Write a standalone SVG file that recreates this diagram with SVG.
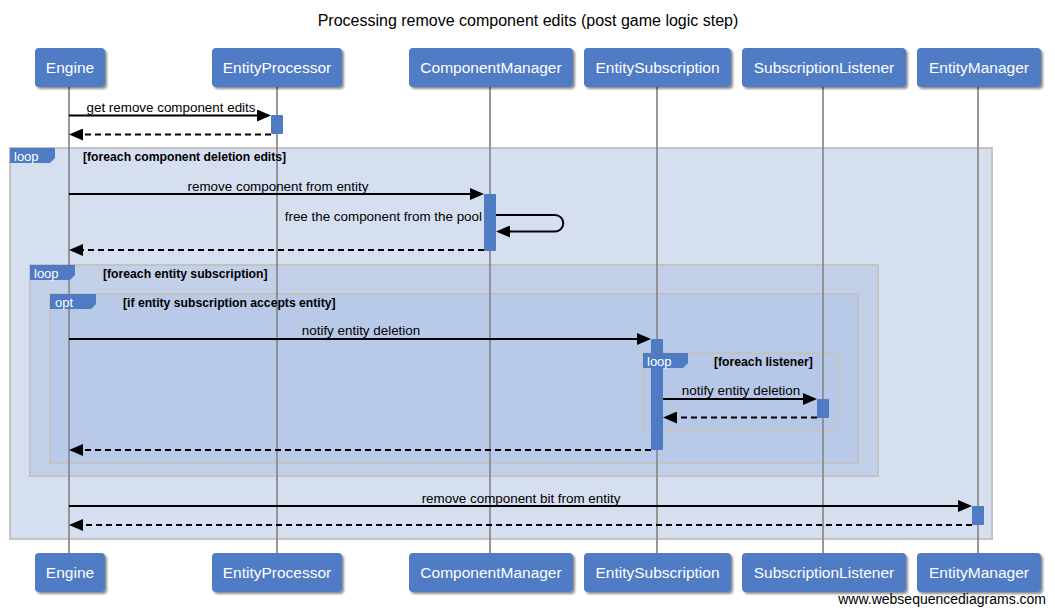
<svg xmlns="http://www.w3.org/2000/svg" width="1055" height="615" viewBox="0 0 1055 615">
<defs>
<style>
.title{font-family:"Liberation Sans",Arial,sans-serif;font-size:16px;fill:#000;text-anchor:middle}
.pbox{fill:#4f7bc5}
.ptxt{font-family:"Liberation Sans",Arial,sans-serif;font-size:15.5px;fill:#fff;text-anchor:middle}
.life{stroke:#8c8c8c;stroke-width:1.8}
.act{fill:#4f7bc5}
.msg{stroke:#000;stroke-width:2;fill:none;marker-end:url(#ah)}
.ret{stroke:#000;stroke-width:2;fill:none;stroke-dasharray:6,4;marker-end:url(#ah)}
.mtxt{font-family:"Liberation Sans",Arial,sans-serif;font-size:13.4px;fill:#000;text-anchor:middle}
.frame{stroke:#c3c3c3;stroke-width:2}
.tab{fill:#4f7bc5}
.ttxt{font-family:"Liberation Sans",Arial,sans-serif;font-size:13px;fill:#fff}
.cond{font-family:"Liberation Sans",Arial,sans-serif;font-size:12.2px;font-weight:bold;fill:#000}
.foot{font-family:"Liberation Sans",Arial,sans-serif;font-size:14px;fill:#000;text-anchor:end}
</style>
<marker id="ah" markerUnits="userSpaceOnUse" markerWidth="14" markerHeight="12" refX="10" refY="6" orient="auto">
<path d="M0,0 L14,6 L0,12 z" fill="#000"/>
</marker>
<filter id="sh" x="-10%" y="-10%" width="130%" height="140%">
<feDropShadow dx="2" dy="2" stdDeviation="1.2" flood-color="#000" flood-opacity="0.45"/>
</filter>
</defs>
<rect width="1055" height="615" fill="#fff"/>
<text class="title" x="528" y="26">Processing remove component edits (post game logic step)</text>

<g id="frames">
<rect id="frame-loop-outer" class="frame" x="10" y="148" width="982" height="391" fill="#d6dff0"/>
<rect id="frame-loop-subscription" class="frame" x="30" y="265" width="848" height="211" fill="#c3d0ea"/>
<rect id="frame-opt" class="frame" x="50" y="294" width="808" height="169" fill="#b9c9e8"/>
<rect id="frame-loop-listener" class="frame" x="643" y="353" width="195" height="77" fill="#b7c7e7"/>
</g>

<g id="lifelines">
<line class="life" x1="69" y1="87" x2="69" y2="553"/>
<line class="life" x1="277" y1="87" x2="277" y2="553"/>
<line class="life" x1="490" y1="87" x2="490" y2="553"/>
<line class="life" x1="657" y1="87" x2="657" y2="553"/>
<line class="life" x1="823" y1="87" x2="823" y2="553"/>
<line class="life" x1="978" y1="87" x2="978" y2="553"/>
</g>

<g id="Engine">
<rect class="pbox" x="35" y="48" width="70" height="39" rx="4" filter="url(#sh)"/>
<text class="ptxt" x="70" y="73">Engine</text>
<rect class="pbox" x="35" y="553" width="70" height="39" rx="4" filter="url(#sh)"/>
<text class="ptxt" x="70" y="578">Engine</text>
</g>
<g id="EntityProcessor">
<rect class="pbox" x="212" y="48" width="130" height="39" rx="4" filter="url(#sh)"/>
<text class="ptxt" x="277" y="73">EntityProcessor</text>
<rect class="pbox" x="212" y="553" width="130" height="39" rx="4" filter="url(#sh)"/>
<text class="ptxt" x="277" y="578">EntityProcessor</text>
<rect class="act" x="271" y="115" width="12" height="19" rx="1"/>
</g>
<g id="ComponentManager">
<rect class="pbox" x="409" y="48" width="164" height="39" rx="4" filter="url(#sh)"/>
<text class="ptxt" x="491" y="73">ComponentManager</text>
<rect class="pbox" x="409" y="553" width="164" height="39" rx="4" filter="url(#sh)"/>
<text class="ptxt" x="491" y="578">ComponentManager</text>
<rect class="act" x="484" y="194" width="12" height="57" rx="1"/>
</g>
<g id="EntitySubscription">
<rect class="pbox" x="584" y="48" width="147" height="39" rx="4" filter="url(#sh)"/>
<text class="ptxt" x="657.5" y="73">EntitySubscription</text>
<rect class="pbox" x="584" y="553" width="147" height="39" rx="4" filter="url(#sh)"/>
<text class="ptxt" x="657.5" y="578">EntitySubscription</text>
<rect class="act" x="651" y="339" width="12" height="111" rx="1"/>
</g>
<g id="SubscriptionListener">
<rect class="pbox" x="742" y="48" width="164" height="39" rx="4" filter="url(#sh)"/>
<text class="ptxt" x="824" y="73">SubscriptionListener</text>
<rect class="pbox" x="742" y="553" width="164" height="39" rx="4" filter="url(#sh)"/>
<text class="ptxt" x="824" y="578">SubscriptionListener</text>
<rect class="act" x="817" y="399" width="12" height="19" rx="1"/>
</g>
<g id="EntityManager">
<rect class="pbox" x="917" y="48" width="124" height="39" rx="4" filter="url(#sh)"/>
<text class="ptxt" x="979" y="73">EntityManager</text>
<rect class="pbox" x="917" y="553" width="124" height="39" rx="4" filter="url(#sh)"/>
<text class="ptxt" x="979" y="578">EntityManager</text>
<rect class="act" x="972" y="506" width="12" height="19" rx="1"/>
</g>

<g id="frame-labels">
<path class="tab" d="M10,148 H55 V158 L50,163 H10 Z"/>
<text class="ttxt" x="14" y="160.5">loop</text>
<text class="cond" x="83" y="161">[foreach component deletion edits]</text>
<path class="tab" d="M30,265 H75 V275 L70,280 H30 Z"/>
<text class="ttxt" x="34" y="277.5">loop</text>
<text class="cond" x="103" y="277.5">[foreach entity subscription]</text>
<path class="tab" d="M50,294 H96 V304 L91,309 H50 Z"/>
<text class="ttxt" x="55" y="306.5">opt</text>
<text class="cond" x="123" y="306.5">[if entity subscription accepts entity]</text>
<path class="tab" d="M643,353 H688 V363 L683,368 H643 Z"/>
<text class="ttxt" x="647" y="365.5">loop</text>
<text class="cond" x="714" y="365.5">[foreach listener]</text>
</g>

<g id="connectors">
<path class="msg" d="M69,115.5 H267"/>
<text class="mtxt" x="171" y="112">get remove component edits</text>
<path class="ret" d="M271,134.5 H73"/>

<path class="msg" d="M69,194 H480"/>
<text class="mtxt" x="278" y="191">remove component from entity</text>
<path class="msg" d="M496,215 H555 A8,8 0 0 1 555,231.5 H500"/>
<text class="mtxt" x="482" y="221" style="text-anchor:end">free the component from the pool</text>
<path class="ret" d="M484,250 H73"/>

<path class="msg" d="M69,339 H647"/>
<text class="mtxt" x="361" y="335">notify entity deletion</text>
<path class="msg" d="M663,399 H813"/>
<text class="mtxt" x="741" y="395">notify entity deletion</text>
<path class="ret" d="M817,417.5 H667"/>
<path class="ret" d="M651,450 H73"/>

<path class="msg" d="M69,506 H968"/>
<text class="mtxt" x="521" y="503">remove component bit from entity</text>
<path class="ret" d="M972,525 H73"/>
</g>

<text class="foot" x="1046" y="604">www.websequencediagrams.com</text>
</svg>
